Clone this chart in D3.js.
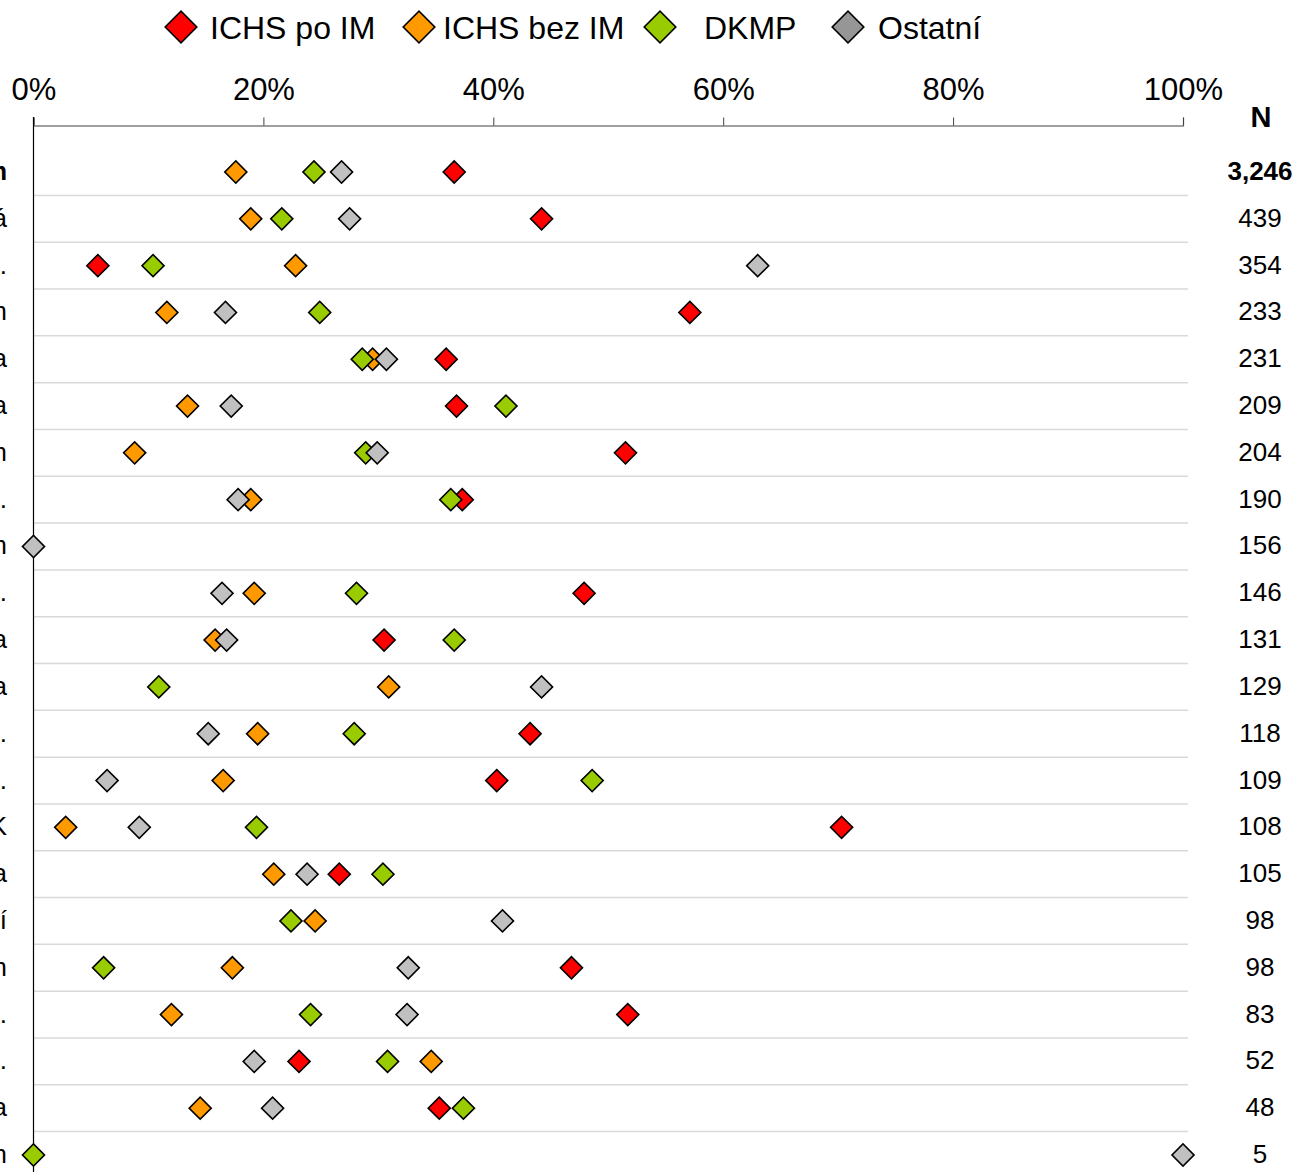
<!DOCTYPE html>
<html>
<head>
<meta charset="utf-8">
<script src="https://cdn.jsdelivr.net/npm/d3@7"></script>
<style>
  html, body { margin: 0; padding: 0; background: #fff; overflow: hidden; }
  svg { display: block; font-family: "Liberation Sans", Arial, sans-serif; }
</style>
</head>
<body>
<svg id="chart" width="1298" height="1172"></svg>
<script>
// data (percent shares per centre)
const centres = [
  "Celkem", "Nemocnice Vítkovická", "Nemocnice Pardubického kraje, a.s.",
  "IKEM Praha – Kardiocentrum", "FN Ostrava", "Krajská nemocnice Jihlava",
  "FN Plzeň – Kardiocentrum", "Krajská zdravotní, a.s.",
  "Nemocnice Třinec – Kardiocentrum", "Nemocnice České Budějovice, a.s.",
  "Nemocnice Liberec, Kardiologická klinika", "FN Motol Praha",
  "Nemocnice Agel Třinec, a.s.", "Krajská nemocnice T. Bati, a.s.",
  "Nemocnice Ostrava – II. IK", "Nemocnice Kolín, interna",
  "Kardiocentrum Podlesí", "Masarykova nemocnice Ústí nad Labem",
  "Nemocnice Pelhřimov, p.o.", "Oblastní nemocnice Náchod, a.s.",
  "FN Královské Vinohrady, Praha", "Ostatní mimo systém"
];
const counts = [3246, 439, 354, 233, 231, 209, 204, 190, 156, 146, 131, 129, 118, 109, 108, 105, 98, 98, 83, 52, 48, 5];

const seriesNames = ["ICHS po IM", "ICHS bez IM", "DKMP", "Ostatní"];
const ichsPoIM  = [36.6, 44.2, 5.6, 57.1, 35.9, 36.8, 51.5, 37.3, null, 47.9, 30.5, null, 43.2, 40.3, 70.3, 26.6, null, 46.8, 51.7, 23.1, 35.3, null];
const ichsBezIM = [17.6, 18.9, 22.8, 11.6, 29.5, 13.4, 8.8, 18.9, null, 19.2, 15.8, 30.9, 19.5, 16.5, 2.8, 20.9, 24.5, 17.3, 12.0, 34.6, 14.5, null];
const dkmp      = [24.4, 21.6, 10.4, 24.9, 28.6, 41.1, 28.9, 36.3, null, 28.1, 36.6, 10.9, 27.9, 48.6, 19.4, 30.4, 22.4, 6.1, 24.1, 30.8, 37.4, 0];
const ostatni   = [26.8, 27.5, 63.0, 16.7, 30.7, 17.2, 29.9, 17.8, 0, 16.4, 16.8, 44.2, 15.2, 6.4, 9.2, 23.8, 40.8, 32.6, 32.5, 19.2, 20.8, 100];
const xTicks = [0, 20, 40, 60, 80, 100];

const seriesValues = [ichsPoIM, ichsBezIM, dkmp, ostatni];
const fills = ["#ff0000", "#ff9900", "#99cc00", "#c0c0c0"];
const legendFills = ["#ff0000", "#ff9900", "#99cc00", "#969696"];

const svg = d3.select("#chart");

const x = d3.scaleLinear().domain([0, 100]).range([33.5, 1183]);
const y = d3.scaleBand().domain(d3.range(centres.length)).range([148.6, 148.6 + 46.81 * centres.length]).padding(0);
const yc = i => y(i) + y.bandwidth() / 2;

// row separators
svg.append("g")
  .selectAll("line")
  .data(d3.range(1, centres.length))
  .join("line")
  .attr("x1", x(0)).attr("x2", 1188)
  .attr("y1", i => y(i)).attr("y2", i => y(i))
  .attr("stroke", "#d9d9d9")
  .attr("stroke-width", 1.5);

// top axis
const axis = svg.append("g")
  .attr("transform", "translate(0,125.5)")
  .call(d3.axisTop(x).tickValues(xTicks).tickFormat(d => d + "%").tickSize(8).tickPadding(18));
axis.select(".domain").attr("stroke", "#808080").attr("stroke-width", 1.3);
axis.selectAll(".tick line").attr("stroke", "#404040");
axis.selectAll(".tick text")
  .attr("fill", "#000")
  .style("font-size", "31px")
  .style("font-family", "'Liberation Sans', Arial, sans-serif");

// vertical axis line
svg.append("line")
  .attr("x1", x(0)).attr("x2", x(0))
  .attr("y1", 117).attr("y2", 1172)
  .attr("stroke", "#000").attr("stroke-width", 1.2);

// row labels (cut at the left edge)
svg.append("g")
  .selectAll("text")
  .data(centres)
  .join("text")
  .attr("x", 7)
  .attr("y", (d, i) => yc(i) + 8)
  .attr("text-anchor", "end")
  .style("font-size", "26px")
  .style("font-weight", (d, i) => i === 0 ? "bold" : "normal")
  .text(d => d);

// N column
svg.append("text")
  .attr("x", 1261).attr("y", 127)
  .attr("text-anchor", "middle")
  .style("font-size", "29px").style("font-weight", "bold")
  .text("N");
svg.append("g")
  .selectAll("text")
  .data(counts)
  .join("text")
  .attr("x", 1260)
  .attr("y", (d, i) => yc(i) + 8)
  .attr("text-anchor", "middle")
  .style("font-size", "26px")
  .style("font-weight", (d, i) => i === 0 ? "bold" : "normal")
  .text(d => d3.format(",")(d));

// diamonds
const diamond = d3.symbol().type(d3.symbolSquare).size(243);
seriesValues.forEach((vals, s) => {
  const pts = vals.map((v, i) => ({ v, i })).filter(d => d.v != null);
  svg.append("g")
    .selectAll("path")
    .data(pts)
    .join("path")
    .attr("d", diamond)
    .attr("transform", d => `translate(${x(d.v)},${yc(d.i)}) rotate(45)`)
    .attr("fill", fills[s])
    .attr("stroke", "#000")
    .attr("stroke-width", 1.6);
});

// legend
const legendMarkerX = [181, 419, 660, 848];
const legendTextX = [210, 443, 704, 878];
const legendSymbol = d3.symbol().type(d3.symbolSquare).size(500);
const legend = svg.append("g");
seriesNames.forEach((name, s) => {
  legend.append("path")
    .attr("d", legendSymbol)
    .attr("transform", `translate(${legendMarkerX[s]},27) rotate(45)`)
    .attr("fill", legendFills[s])
    .attr("stroke", "#000")
    .attr("stroke-width", 1.6);
  legend.append("text")
    .attr("x", legendTextX[s]).attr("y", 39)
    .style("font-size", "32px")
    .text(name);
});
</script>
</body>
</html>
